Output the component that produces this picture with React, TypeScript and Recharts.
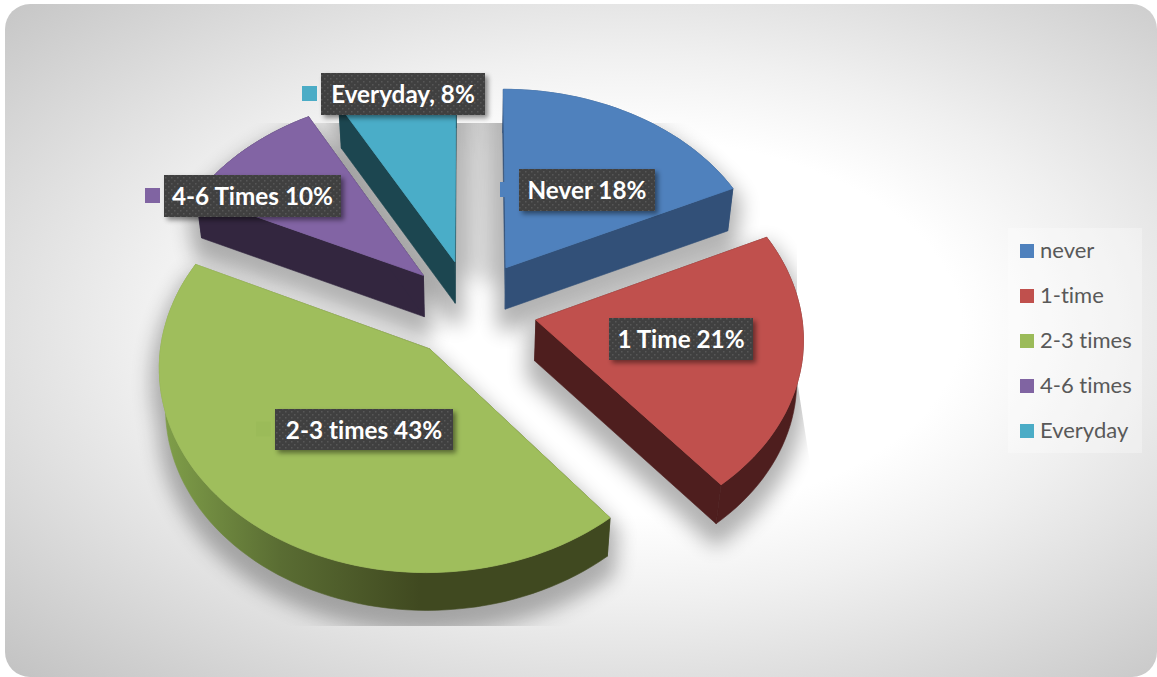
import { Legend, Pie, PieChart } from 'recharts'

const categories = ['never', '1-time', '2-3 times', '4-6 times', 'Everyday']
const shares = [18, 21, 43, 10, 8]
const labelNames = ['Never', '1 Time', '2-3 times', '4-6 Times', 'Everyday,']

const keyColors = ['#4f81bd', '#c0504d', '#9bbb59', '#8064a2', '#4bacc6']
const topColors = ['#4f81bd', '#c0504d', '#9fbe5c', '#8264a4', '#4aadc8']
const wallColors = ['#325078', '#4e1e1e', 'url(#greenWall)', '#33263f', '#1c4650']

// where each data label sits
const labelBoxes = [
    { x: 519, y: 169, w: 136, h: 42 },
    { x: 609, y: 318, w: 144, h: 42 },
    { x: 275, y: 409, w: 178, h: 41 },
    { x: 164, y: 175, w: 177, h: 42 },
    { x: 321, y: 73, w: 164, h: 42 },
]

const WIDTH = 1157
const HEIGHT = 677

// 3D look of the pie: every slice is pulled out by 25% and tilted back
const EXPLODE = 0.25
const X_STRETCH = 265 / 199
const PERSPECTIVE = 0.08
const DEPTH = 41
const WALL_SHRINK = 0.02

const chartData = categories.map((name, i) => ({
    name,
    value: shares[i],
    fill: keyColors[i],
    topColor: topColors[i],
    wallColor: wallColors[i],
}))

type Pt = [number, number]

const rad = (deg: number) => (deg * Math.PI) / 180

// projects a spot of the pie disc (unit radius) on the screen
const project = (u: number, w: number, cx: number, cy: number, r: number): Pt => {
    const p = 1 / (1 + PERSPECTIVE * w)
    return [cx + r * X_STRETCH * u * p, cy - r * w * p]
}

const dropWall = ([x, y]: Pt, cx: number, cy: number): Pt => [
    x - WALL_SHRINK * (x - cx),
    y + DEPTH - 0.012 * (y - cy),
]

// first point is the slice tip, the rest run along the rim
const sliceOutline = (props: any): Pt[] => {
    const { cx, cy, outerRadius, startAngle, endAngle } = props
    const from = 90 - startAngle
    const to = 90 - endAngle
    const mid = rad((from + to) / 2)
    const u0 = EXPLODE * Math.sin(mid)
    const w0 = EXPLODE * Math.cos(mid)
    const pts: Pt[] = [project(u0, w0, cx, cy, outerRadius)]
    const steps = Math.max(2, Math.ceil((to - from) / 2))
    for (let i = 0; i <= steps; i++) {
        const a = rad(from + ((to - from) * i) / steps)
        pts.push(project(u0 + Math.sin(a), w0 + Math.cos(a), cx, cy, outerRadius))
    }
    return pts
}

const toPoints = (pts: Pt[]) => pts.map((p) => `${p[0].toFixed(1)},${p[1].toFixed(1)}`).join(' ')

const Walls = ({ pts, cx, cy, fill, spread = 0.6 }: { pts: Pt[]; cx: number; cy: number; fill: string; spread?: number }) => {
    const low = pts.map((p) => dropWall(p, cx, cy))
    const rim = pts.slice(1)
    const lowRim = low.slice(1).reverse()
    const last = pts.length - 1
    return (
        <g stroke={fill} strokeWidth={spread} strokeLinejoin="round">
            <polygon points={toPoints([...rim, ...lowRim])} fill={fill} />
            <polygon points={toPoints([pts[0], pts[1], low[1], low[0]])} fill={fill} />
            <polygon points={toPoints([pts[0], pts[last], low[last], low[0]])} fill={fill} />
        </g>
    )
}

const SliceShape = (props: any) => {
    const pts = sliceOutline(props)
    return (
        <g>
            <Walls pts={pts} cx={props.cx} cy={props.cy} fill={props.wallColor} />
            <polygon points={toPoints(pts)} fill={props.topColor} stroke={props.topColor} strokeWidth={0.8} />
        </g>
    )
}

const ShadowShape = (props: any) => {
    const pts = sliceOutline(props)
    // the first and last slice also throw a wide shadow into the gap between them
    const gapEdge = props.index === 0 ? pts[1] : props.index === categories.length - 1 ? pts[pts.length - 1] : null
    return (
        <g clipPath="url(#shadowClip)">
            <g filter="url(#sliceShadow)">
                <Walls pts={pts} cx={props.cx} cy={props.cy} fill="#000" spread={16} />
                <polygon points={toPoints(pts)} fill="#000" />
                {gapEdge && (
                    <line
                        x1={pts[0][0]}
                        y1={pts[0][1]}
                        x2={gapEdge[0]}
                        y2={gapEdge[1]}
                        stroke="#000"
                        strokeOpacity={0.7}
                        strokeWidth={46}
                    />
                )}
            </g>
        </g>
    )
}

const renderLabel = (props: any) => {
    const box = labelBoxes[props.index]
    const midY = box.y + box.h / 2
    return (
        <g key={props.index}>
            <rect x={box.x - 19} y={midY - 8} width={15} height={15} fill={keyColors[props.index]} />
            <rect x={box.x} y={box.y} width={box.w} height={box.h} fill="#3f3f3f" filter="url(#labelShadow)" />
            <rect x={box.x} y={box.y} width={box.w} height={box.h} fill="url(#labelDots)" />
            <text
                x={box.x + box.w / 2}
                y={midY + 9}
                textAnchor="middle"
                fill="#fff"
                fontFamily="Lato"
                fontWeight={700}
                fontSize={24.3}
                style={{ fontVariantLigatures: 'none' }}
            >
                {`${labelNames[props.index]} ${shares[props.index]}%`}
            </text>
        </g>
    )
}

const renderLegend = (props: any) => (
    <div
        style={{
            width: 134,
            height: 225,
            boxSizing: 'border-box',
            padding: '0 0 0 12px',
            background: 'rgba(255,255,255,0.3)',
        }}
    >
        {props.payload
            .filter((entry: any) => entry.type !== 'none')
            .map((entry: any) => (
                <div
                    key={entry.value}
                    style={{
                        height: 45,
                        display: 'flex',
                        alignItems: 'center',
                        fontFamily: 'Lato',
                        fontSize: 22,
                        fontVariantLigatures: 'none',
                        color: '#595959',
                    }}
                >
                    <span style={{ width: 14, height: 14, background: entry.color, marginRight: 6 }} />
                    <span style={{ position: 'relative', top: -1 }}>{entry.value}</span>
                </div>
            ))}
    </div>
)

export default function App() {
    return (
        <div style={{ position: 'absolute', left: 0, top: 0, width: WIDTH, height: HEIGHT, overflow: 'hidden', background: '#fff' }}>
            <div
                style={{
                    position: 'absolute',
                    left: 5,
                    top: 4,
                    width: WIDTH - 5,
                    height: HEIGHT - 4,
                    borderRadius: 25,
                    background: 'radial-gradient(ellipse farthest-corner at 54% 48%, #ffffff 38%, #f0f0f0 55%, #c2c2c2 100%)',
                }}
            />
            <PieChart
                width={WIDTH}
                height={HEIGHT}
                margin={{ top: 0, right: 0, bottom: 0, left: 0 }}
                style={{ position: 'absolute', left: 0, top: 0 }}
            >
                <defs>
                    <linearGradient id="greenWall" gradientUnits="userSpaceOnUse" x1={165} y1={0} x2={420} y2={0}>
                        <stop offset="0%" stopColor="#7f9e49" />
                        <stop offset="45%" stopColor="#5a6d33" />
                        <stop offset="100%" stopColor="#404920" />
                    </linearGradient>
                    <filter id="sliceShadow" filterUnits="userSpaceOnUse" x={0} y={0} width={WIDTH} height={HEIGHT}>
                        <feOffset dx={0} dy={14} />
                        <feGaussianBlur stdDeviation={10} />
                        <feComponentTransfer>
                            <feFuncA type="linear" slope={0.3} />
                        </feComponentTransfer>
                    </filter>
                    <filter id="labelShadow" x="-10%" y="-30%" width="125%" height="170%">
                        <feDropShadow dx={3} dy={3} stdDeviation={2.5} floodColor="#000" floodOpacity={0.45} />
                    </filter>
                    <clipPath id="shadowClip">
                        <polygon points="0,123 797,123 797,380 811,470 811,626 0,626" />
                    </clipPath>
                    <pattern id="labelDots" patternUnits="userSpaceOnUse" width={6} height={6}>
                        <rect x={0} y={0} width={1.5} height={1.5} fill="#575757" />
                        <rect x={3} y={3} width={1.5} height={1.5} fill="#575757" />
                    </pattern>
                </defs>
                <Pie
                    data={chartData}
                    dataKey="value"
                    nameKey="name"
                    cx={471}
                    cy={309}
                    outerRadius={199}
                    startAngle={90}
                    endAngle={-270}
                    legendType="none"
                    shape={ShadowShape}
                    isAnimationActive={false}
                />
                <Pie
                    data={chartData}
                    dataKey="value"
                    nameKey="name"
                    cx={471}
                    cy={309}
                    outerRadius={199}
                    startAngle={90}
                    endAngle={-270}
                    shape={SliceShape}
                    label={renderLabel}
                    labelLine={false}
                    isAnimationActive={false}
                />
                <Legend
                    layout="vertical"
                    align="right"
                    verticalAlign="middle"
                    itemSorter={null}
                    content={renderLegend}
                    wrapperStyle={{ position: 'absolute', left: 1008, top: 228, width: 134, height: 225 }}
                />
            </PieChart>
        </div>
    )
}
